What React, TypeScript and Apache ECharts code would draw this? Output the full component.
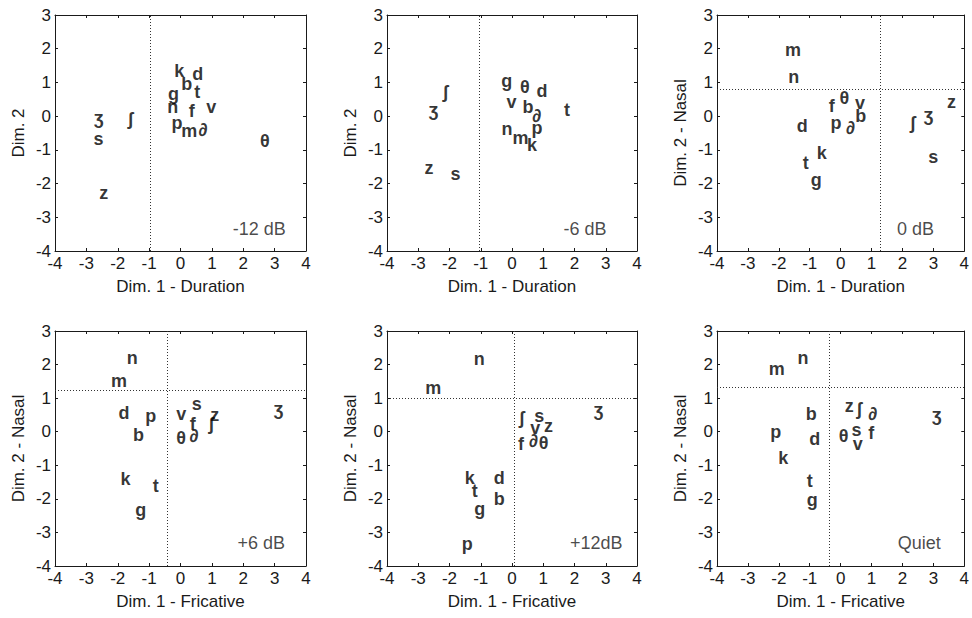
import React, { useEffect, useRef } from 'react';
import * as echarts from 'echarts';

// ---------- data ----------
const PANEL_TAGS = ['-12 dB', '-6 dB', '0 dB', '+6 dB', '+12dB', 'Quiet'];
const X_NAMES = ['Dim. 1 - Duration', 'Dim. 1 - Duration', 'Dim. 1 - Duration', 'Dim. 1 - Fricative', 'Dim. 1 - Fricative', 'Dim. 1 - Fricative'];
const Y_NAMES = ['Dim. 2', 'Dim. 2', 'Dim. 2 - Nasal', 'Dim. 2 - Nasal', 'Dim. 2 - Nasal', 'Dim. 2 - Nasal'];
const X_TICKS = [-4, -3, -2, -1, 0, 1, 2, 3, 4];
const Y_TICKS = [-4, -3, -2, -1, 0, 1, 2, 3];

// dotted reference lines (null = none)
const V_LINES = [-0.97, -1.05, 1.29, -0.41, 0.06, -0.36];
const H_LINES: (number | null)[] = [null, null, 0.81, 1.25, 1.0, 1.32];

// tag anchor (left edge of the condition label)
const TAG_X = [1.65, 1.63, 1.81, 1.8, 1.84, 1.83];
const TAG_Y = [-3.36, -3.36, -3.36, -3.32, -3.32, -3.32];

// -12 dB
const P1_LABELS = ['k', 'd', 'b', 't', 'g', 'n', 'f', 'v', 'p', 'm', '∂', 'θ', 'ʒ', 's', 'ʃ', 'z'];
const P1_DIM1 = [-0.04, 0.55, 0.2, 0.53, -0.22, -0.25, 0.36, 0.98, -0.11, 0.28, 0.71, 2.69, -2.61, -2.61, -1.59, -2.45];
const P1_DIM2 = [1.35, 1.25, 0.96, 0.73, 0.65, 0.26, 0.16, 0.28, -0.19, -0.43, -0.41, -0.74, -0.06, -0.69, -0.08, -2.29];

// -6 dB
const P2_LABELS = ['g', 'θ', 'd', 'v', 'b', '∂', 'p', 't', 'n', 'm', 'k', 'ʃ', 'ʒ', 'z', 's'];
const P2_DIM1 = [-0.17, 0.41, 0.96, -0.02, 0.51, 0.78, 0.8, 1.76, -0.16, 0.27, 0.64, -2.13, -2.51, -2.66, -1.81];
const P2_DIM2 = [1.03, 0.86, 0.76, 0.43, 0.28, -0.01, -0.36, 0.18, -0.39, -0.64, -0.86, 0.73, 0.17, -1.55, -1.72];

// 0 dB
const P3_LABELS = ['m', 'n', 'f', 'θ', 'v', 'p', '∂', 'b', 'd', 'k', 't', 'g', 'ʃ', 'ʒ', 'z', 's'];
const P3_DIM1 = [-1.54, -1.52, -0.29, 0.12, 0.63, -0.15, 0.31, 0.65, -1.24, -0.61, -1.13, -0.79, 2.33, 2.84, 3.59, 3.0];
const P3_DIM2 = [1.95, 1.17, 0.3, 0.55, 0.38, -0.19, -0.36, -0.01, -0.29, -1.08, -1.38, -1.9, -0.21, 0.04, 0.43, -1.2];

// +6 dB
const P4_LABELS = ['n', 'm', 'd', 'p', 'b', 'v', 's', 'f', 'z', 'ʃ', 'θ', '∂', 'ʒ', 'k', 't', 'g'];
const P4_DIM1 = [-1.54, -1.96, -1.8, -0.95, -1.34, 0.02, 0.52, 0.39, 1.09, 0.98, 0.02, 0.42, 3.12, -1.75, -0.79, -1.27];
const P4_DIM2 = [2.21, 1.51, 0.55, 0.47, -0.11, 0.52, 0.82, 0.22, 0.49, 0.22, -0.18, -0.13, 0.69, -1.4, -1.63, -2.32];

// +12 dB
const P5_LABELS = ['n', 'm', 'ʃ', 's', 'v', 'z', 'f', '∂', 'θ', 'ʒ', 'k', 't', 'g', 'd', 'b', 'p'];
const P5_DIM1 = [-1.05, -2.52, 0.31, 0.87, 0.74, 1.17, 0.29, 0.68, 1.01, 2.77, -1.35, -1.19, -1.03, -0.41, -0.41, -1.43];
const P5_DIM2 = [2.18, 1.29, 0.42, 0.47, 0.12, 0.17, -0.38, -0.28, -0.33, 0.64, -1.38, -1.78, -2.3, -1.38, -2.0, -3.34];

// Quiet
const P6_LABELS = ['n', 'm', 'b', 'd', 'p', 'k', 't', 'g', 'z', 'ʃ', '∂', 'θ', 's', 'v', 'f', 'ʒ'];
const P6_DIM1 = [-1.22, -2.07, -0.95, -0.84, -2.1, -1.86, -1.0, -0.92, 0.28, 0.6, 1.03, 0.1, 0.51, 0.55, 0.99, 3.11];
const P6_DIM2 = [2.21, 1.86, 0.52, -0.21, -0.01, -0.78, -1.48, -2.03, 0.77, 0.67, 0.54, -0.13, 0.05, -0.38, -0.03, 0.49];

const PANELS = [
  [P1_LABELS, P1_DIM1, P1_DIM2],
  [P2_LABELS, P2_DIM1, P2_DIM2],
  [P3_LABELS, P3_DIM1, P3_DIM2],
  [P4_LABELS, P4_DIM1, P4_DIM2],
  [P5_LABELS, P5_DIM1, P5_DIM2],
  [P6_LABELS, P6_DIM1, P6_DIM2],
] as [string[], number[], number[]][];

// ---------- layout / style ----------
const FONT = '"Liberation Sans", Arial, Helvetica, "DejaVu Sans", sans-serif';
const COL_LEFT = [55, 387, 717];
const COL_WIDTH = [251, 250, 251];
const ROW_TOP = [15, 331];
const ROW_HEIGHT = [236, 235];
const INK = '#1a1a1a';

function buildOption() {
  const grid: any[] = [];
  const xAxis: any[] = [];
  const yAxis: any[] = [];
  const series: any[] = [];
  const xMin = X_TICKS[0], xMax = X_TICKS[X_TICKS.length - 1];
  const yMin = Y_TICKS[0], yMax = Y_TICKS[Y_TICKS.length - 1];

  for (let i = 0; i < 6; i++) {
    const r = Math.floor(i / 3), c = i % 3;
    grid.push({ left: COL_LEFT[c], top: ROW_TOP[r], width: COL_WIDTH[c], height: ROW_HEIGHT[r], containLabel: false });
    const axisLine = { show: true, onZero: false, lineStyle: { color: INK, width: 1 } };
    const axisTick = { show: true, inside: true, length: 3, lineStyle: { color: INK, width: 1 } };
    const labelStyle = { color: INK, fontFamily: FONT, fontSize: 17 };
    xAxis.push({
      type: 'value', gridIndex: i, min: xMin, max: xMax, interval: 1, position: 'bottom',
      axisLine, axisTick, splitLine: { show: false },
      axisLabel: { ...labelStyle, margin: 4, showMinLabel: true, showMaxLabel: true },
      name: X_NAMES[i], nameLocation: 'middle', nameGap: 27,
      nameTextStyle: { color: INK, fontFamily: FONT, fontSize: 17 },
    });
    xAxis.push({
      type: 'value', gridIndex: i, min: xMin, max: xMax, interval: 1, position: 'top',
      axisLine, axisTick, splitLine: { show: false }, axisLabel: { show: false },
    });
    yAxis.push({
      type: 'value', gridIndex: i, min: yMin, max: yMax, interval: 1, position: 'left',
      axisLine, axisTick, splitLine: { show: false },
      axisLabel: { ...labelStyle, margin: 4, showMinLabel: true, showMaxLabel: true },
      name: Y_NAMES[i], nameLocation: 'middle', nameGap: 28,
      nameTextStyle: { color: INK, fontFamily: FONT, fontSize: 17 },
    });
    yAxis.push({
      type: 'value', gridIndex: i, min: yMin, max: yMax, interval: 1, position: 'right',
      axisLine, axisTick, splitLine: { show: false }, axisLabel: { show: false },
    });

    const [labels, d1, d2] = PANELS[i];
    const markData: any[] = [{ xAxis: V_LINES[i] }];
    if (H_LINES[i] !== null) markData.push({ yAxis: H_LINES[i] });

    series.push({
      type: 'scatter', xAxisIndex: 2 * i, yAxisIndex: 2 * i,
      symbol: 'circle', symbolSize: 1, itemStyle: { color: 'rgba(0,0,0,0)' },
      data: labels.map((l, k) => [d1[k], d2[k], l]),
      label: {
        show: true, position: 'inside', formatter: (p: any) => p.data[2],
        color: '#000', fontFamily: FONT, fontSize: 18, fontWeight: 'bold',
      },
      markLine: {
        silent: true, symbol: ['none', 'none'], label: { show: false },
        lineStyle: { type: [1, 2], color: '#333', width: 1 },
        data: markData,
      },
      z: 3,
    });
    series.push({
      type: 'scatter', xAxisIndex: 2 * i, yAxisIndex: 2 * i,
      symbol: 'circle', symbolSize: 1, itemStyle: { color: 'rgba(0,0,0,0)' },
      data: [[TAG_X[i], TAG_Y[i], PANEL_TAGS[i]]],
      label: {
        show: true, position: 'right', distance: 0, formatter: (p: any) => p.data[2],
        color: INK, fontFamily: FONT, fontSize: 18,
      },
    });
  }

  return { animation: false, backgroundColor: '#fff', grid, xAxis, yAxis, series };
}

export default function App() {
  const ref = useRef<HTMLDivElement>(null);
  useEffect(() => {
    const chart = echarts.init(ref.current!, null, { renderer: 'svg' });
    chart.setOption(buildOption());
    return () => chart.dispose();
  }, []);
  return (
    <div
      ref={ref}
      style={{ position: 'fixed', left: 0, top: 0, width: 972, height: 618, background: '#fff' }}
    />
  );
}
